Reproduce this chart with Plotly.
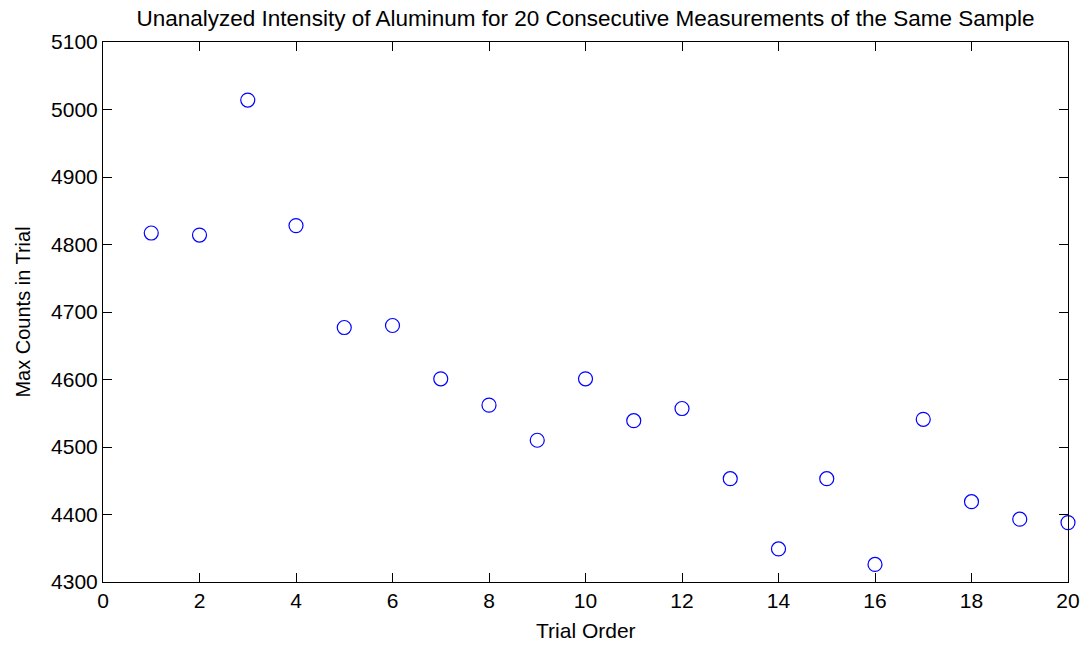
import plotly.graph_objects as go

trial_order = list(range(1, 21))
max_counts = [4817, 4814, 5014, 4828, 4677, 4680, 4601, 4562, 4510, 4601,
              4539, 4557, 4453, 4349, 4453, 4326, 4541, 4419, 4393, 4388]

x_ticks = [0, 2, 4, 6, 8, 10, 12, 14, 16, 18, 20]
y_ticks = [4300, 4400, 4500, 4600, 4700, 4800, 4900, 5000, 5100]

fig = go.Figure()
fig.add_trace(go.Scatter(
    x=trial_order, y=max_counts, mode="markers",
    marker=dict(symbol="circle-open", size=14, color="#0000ff", line=dict(width=1.2, color="#0000ff")),
    cliponaxis=False, showlegend=False,
))

font = "Liberation Sans, Arial, sans-serif"
axis_common = dict(
    showgrid=False, zeroline=False, showline=True, linecolor="black", linewidth=1,
    mirror="ticks", ticks="inside", ticklen=9, tickcolor="black", tickwidth=1,
    tickfont=dict(family=font, size=21, color="black"), automargin=False,
)
fig.update_xaxes(range=[0, 20], tickvals=x_ticks, ticktext=[str(v) for v in x_ticks],
                 **axis_common)
fig.update_yaxes(range=[4300, 5100], tickvals=y_ticks, ticktext=[str(v) for v in y_ticks],
                 title=dict(text="Max Counts in Trial", font=dict(family=font, size=20, color="black")),
                 **axis_common)
fig.add_annotation(text="Trial Order", x=0.5, y=0, xref="paper", yref="paper",
                   xanchor="center", yanchor="middle", yshift=-48, showarrow=False,
                   font=dict(family=font, size=21, color="black"))
fig.update_layout(
    width=1083, height=645,
    margin=dict(l=103, r=15, t=42, b=63),
    paper_bgcolor="white", plot_bgcolor="white",
    title=dict(text="Unanalyzed Intensity of Aluminum for 20 Consecutive Measurements of the Same Sample",
               font=dict(family=font, size=22.5, color="black"), x=0.5, xanchor="center", xref="paper",
               y=1 - 18 / 645, yanchor="middle"),
)
fig.write_html("out.html")
